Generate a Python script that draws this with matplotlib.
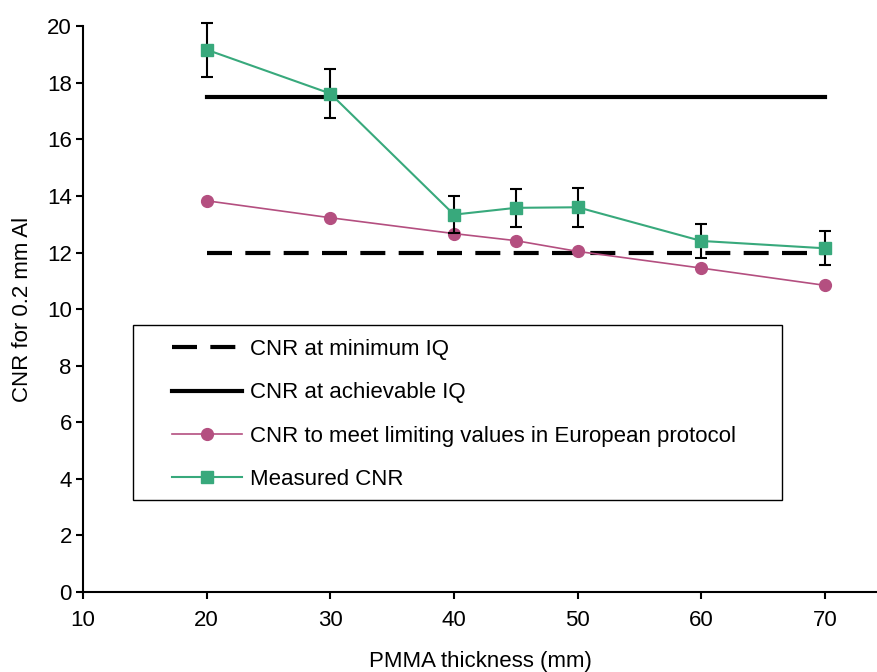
import numpy as np
import matplotlib.pyplot as plt
from matplotlib.patches import Rectangle

plt.rcParams['font.family'] = ['Liberation Sans', 'DejaVu Sans']

thickness = [20, 30, 40, 45, 50, 60, 70]
cnr_limit = [13.83, 13.23, 12.67, 12.42, 12.04, 11.45, 10.84]
cnr_meas = [19.17, 17.62, 13.34, 13.58, 13.60, 12.41, 12.15]
cnr_err = [0.95, 0.88, 0.65, 0.68, 0.68, 0.61, 0.60]
line_x = [20, 70]
cnr_min_iq = 12.0
cnr_ach_iq = 17.5

green = '#38a97c'
pink = '#b44f80'
fs = 16

fig = plt.figure(figsize=(8.77, 6.72), dpi=100)
ax = fig.add_axes([0.0946, 0.119, 0.9054, 0.842])

h_min, = ax.plot(line_x, [cnr_min_iq] * 2, color='black', lw=3, dashes=(6, 3.2),
                 label='CNR at minimum IQ')
h_ach, = ax.plot(line_x, [cnr_ach_iq] * 2, color='black', lw=3,
                 label='CNR at achievable IQ')
h_lim, = ax.plot(thickness, cnr_limit, color=pink, lw=1.2, marker='o', ms=8.5,
                 label='CNR to meet limiting values in European protocol')
eb = ax.errorbar(thickness, cnr_meas, yerr=cnr_err, fmt='none', ecolor='black',
                 elinewidth=1.5, capsize=4.3, capthick=1.5, zorder=3)
for art in eb.lines[1] + eb.lines[2]:
    art.set_clip_on(False)
h_meas, = ax.plot(thickness, cnr_meas, color=green, lw=1.5, marker='s', ms=9,
                  label='Measured CNR', zorder=4)

ax.set_xlim(10, 74.2)
ax.set_ylim(0, 20)
ax.set_xticks(range(10, 71, 10))
ax.set_yticks(range(0, 21, 2))
ax.spines['top'].set_visible(False)
ax.spines['right'].set_visible(False)
ax.spines['left'].set_linewidth(1.5)
ax.spines['bottom'].set_linewidth(1.5)
ax.tick_params(direction='out', length=5, width=1.5, labelsize=fs, pad=3)
ax.tick_params(axis='x', pad=8)

ax.set_xlabel('PMMA thickness (mm)', fontsize=fs, labelpad=14)
ax.set_ylabel('CNR for 0.2 mm Al', fontsize=fs, labelpad=10)

# legend box drawn separately
ax.add_patch(Rectangle((0.063, 0.1625), 0.817, 0.309, transform=ax.transAxes,
                       fill=True, facecolor='white', edgecolor='black', lw=1,
                       zorder=5))
leg = ax.legend(handles=[h_min, h_ach, h_lim, h_meas], loc='upper left',
                bbox_to_anchor=(0.112, 0.447), frameon=False, fontsize=fs,
                handlelength=3.15, handletextpad=0.36, labelspacing=1.0,
                borderpad=0, borderaxespad=0)
leg.set_zorder(6)

fig.savefig('out.png', dpi=100)
